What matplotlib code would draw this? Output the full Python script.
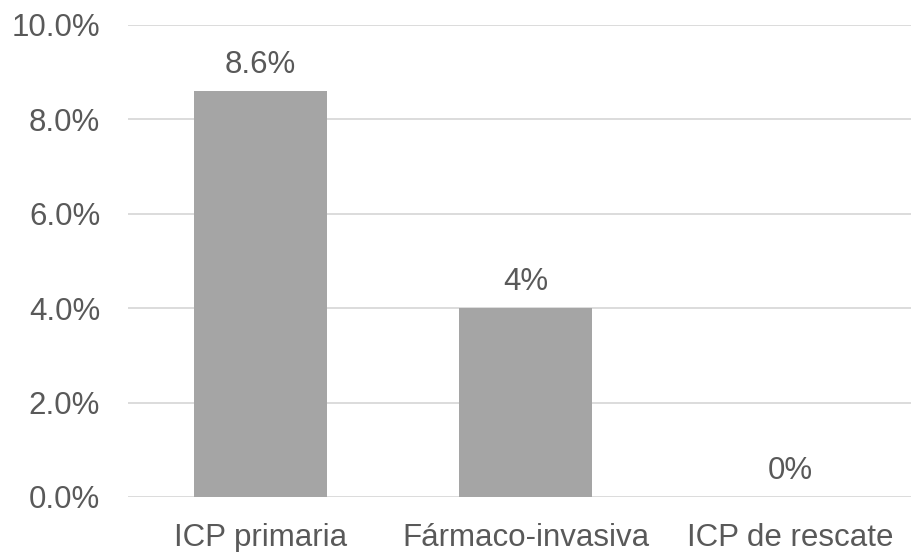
import matplotlib
matplotlib.use("Agg")
import matplotlib.pyplot as plt
from matplotlib.ticker import PercentFormatter

# rate per strategy (%)
categories = ["ICP primaria", "Fármaco-invasiva", "ICP de rescate"]
values = [8.6, 4.0, 0.0]
value_labels = ["8.6%", "4%", "0%"]

plt.rcParams["font.family"] = ["Liberation Sans", "DejaVu Sans"]
text_color = "#595959"
fsize = 22.5

fig = plt.figure(figsize=(9.11, 5.52), dpi=100)
# plot area runs slightly past the right edge of the figure
ax = fig.add_axes([128 / 911, 55 / 552, 795 / 911, 472 / 552])

x = range(len(categories))
ax.bar(x, values, width=0.5, color="#a5a5a5", zorder=2)

for xi, v, lab in zip(x, values, value_labels):
    ax.annotate(lab, (xi, v), xytext=(0, 8), textcoords="offset points",
                ha="center", va="bottom", fontsize=fsize, color=text_color)

ax.set_xlim(-0.5, len(categories) - 0.5)
ax.set_ylim(0, 10)
ax.set_yticks([0, 2, 4, 6, 8, 10])
ax.yaxis.set_major_formatter(PercentFormatter(decimals=1))
ax.set_xticks(list(x))
ax.set_xticklabels(categories)

ax.grid(axis="y", color="#d9d9d9", linewidth=1.3, zorder=0)
for s in ax.spines.values():
    s.set_visible(False)
ax.tick_params(axis="both", length=0, labelsize=fsize, labelcolor=text_color)
ax.tick_params(axis="y", pad=20)
ax.tick_params(axis="x", pad=19)

fig.savefig("out.png", dpi=100)
